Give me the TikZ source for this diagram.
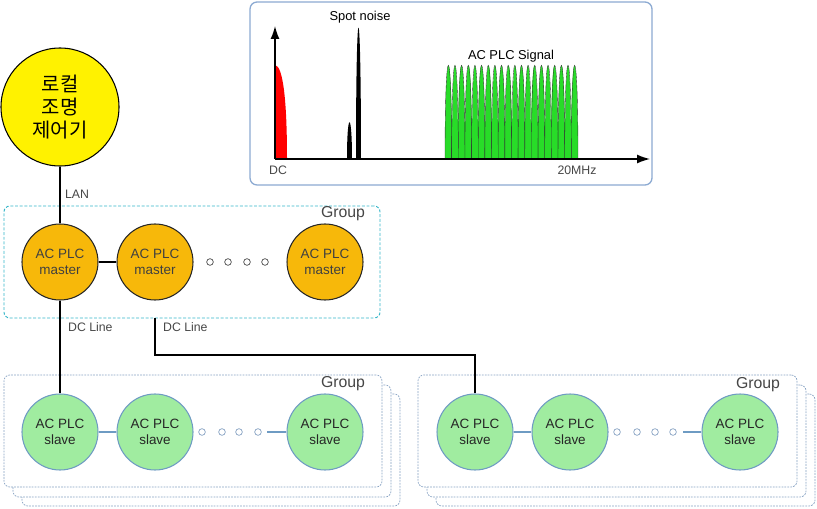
\documentclass[tikz,border=0pt]{standalone}
\usepackage{fontspec}
\setmainfont{Liberation Sans}
\newfontfamily\kor{Noto Sans CJK KR}
\usepackage{tikz}
\usetikzlibrary{arrows.meta,fit}
\definecolor{mastfill}{RGB}{247,184,10}
\definecolor{slavefill}{RGB}{160,236,160}
\definecolor{slaveline}{RGB}{110,155,195}
\definecolor{grpcyan}{RGB}{50,180,200}
\definecolor{grpgray}{RGB}{135,162,195}
\definecolor{specframe}{RGB}{140,170,210}
\definecolor{sigfill}{RGB}{40,220,40}
\definecolor{txtgray}{RGB}{70,70,70}

\begin{document}
\begin{tikzpicture}[x=0.03cm,y=-0.03cm,
  ctrl/.style={circle,draw,line width=0.9pt,fill=yellow,minimum size=3.54cm,inner sep=0pt,align=center,font=\kor\fontsize{17}{19.5}\selectfont},
  master/.style={circle,draw=black!85,line width=0.9pt,fill=mastfill,minimum size=2.28cm,inner sep=0pt,align=center,text=black!75,font=\fontsize{11.5}{14}\selectfont},
  slave/.style={circle,draw=slaveline,line width=0.9pt,fill=slavefill,minimum size=2.28cm,inner sep=0pt,align=center,text=black!85,font=\fontsize{11.5}{14}\selectfont},
  mgrp/.style={draw=grpcyan,dash pattern=on 2.5pt off 1.5pt,line width=0.8pt,rounded corners=5pt,inner sep=0pt},
  sgrp/.style={draw=grpgray,dash pattern=on 1.5pt off 1pt,line width=0.6pt,fill=white,rounded corners=5pt,inner sep=0pt},
  mdot/.style={circle,draw=black!70,fill=white,line width=0.6pt,minimum size=0.2cm,inner sep=0pt},
  sdot/.style={circle,draw=grpgray,fill=white,line width=0.6pt,minimum size=0.2cm,inner sep=0pt},
  grplab/.style={text=txtgray,font=\fontsize{13.5}{16}\selectfont},
  linelab/.style={text=txtgray,font=\fontsize{10.5}{12}\selectfont},
  spec/.style={font=\fontsize{11}{13}\selectfont},
  peak/.style={fill=sigfill,draw=black!80,line width=0.3pt}]
\useasboundingbox (0,0) rectangle (817,509);

\draw[specframe,line width=1.1pt,rounded corners=6pt,fill=white] (250,2) rectangle (652,185);
\coordinate (orig) at (275,159);
\coordinate (ytip) at (275,26);
\coordinate (xtip) at (650,159);
\fill[red] (275,159) -- (275,65) .. controls (283,66) and (287,100) .. (287,159) -- cycle;
\fill (347,159) .. controls (347,110) and (351.5,110) .. (351.5,159) -- cycle;
\fill (355.5,159) .. controls (355.5,-16) and (360.5,-16) .. (360.5,159) -- cycle;
\foreach \i in {0,...,19}
  \filldraw[peak] (445+\i*6.65,159) .. controls (445+\i*6.65,34) and (451.65+\i*6.65,34) .. (451.65+\i*6.65,159) -- cycle;
\draw[line width=1.2pt,-{Latex[length=0.39cm,width=0.27cm]}] (orig) -- (ytip);
\draw[line width=1.2pt,-{Latex[length=0.39cm,width=0.27cm]}] (orig) -- (xtip);
\node[spec] (spot) at (360,17) {Spot noise};
\node[spec] (sig) at (511,56) {AC PLC Signal};
\node[linelab] (dc) at (278,170) {DC};
\node[linelab] (mhz) at (577,170) {20MHz};

\node[ctrl] (ctrl) at (60,107) {로컬\\조명\\제어기};

\node[mgrp,fit={(4,206) (380,318)}] (grpm) {};
\node[grplab] (grpmlab) at (343,214) {Group};
\node[master] (m1) at (60,262) {AC PLC\\master};
\node[master] (m2) at (155,262) {AC PLC\\master};
\node[master] (m3) at (325,262) {AC PLC\\master};
\foreach \x [count=\k] in {210,228,247,265}
  \node[mdot] (md\k) at (\x,262) {};

\node[sgrp,fit={(22,394) (400,506)}] (grpa3) {};
\node[sgrp,fit={(13,385) (391,497)}] (grpa2) {};
\node[sgrp,fit={(4,375) (382,487)}] (grpa) {};
\node[grplab] (grpalab) at (343,384) {Group};
\node[slave] (a1) at (60,432) {AC PLC\\slave};
\node[slave] (a2) at (155,432) {AC PLC\\slave};
\node[slave] (a3) at (325,432) {AC PLC\\slave};
\foreach \x [count=\k] in {202,222,239,258}
  \node[sdot] (ad\k) at (\x,432) {};
\coordinate (ca) at (267,432);

\node[sgrp,fit={(436,394) (815,506)}] (grpb3) {};
\node[sgrp,fit={(427,385) (806,497)}] (grpb2) {};
\node[sgrp,fit={(418,375) (797,487)}] (grpb) {};
\node[grplab] (grpblab) at (758,385) {Group};
\node[slave] (b1) at (475,432) {AC PLC\\slave};
\node[slave] (b2) at (570,432) {AC PLC\\slave};
\node[slave] (b3) at (740,432) {AC PLC\\slave};
\foreach \x [count=\k] in {617,637,655,673}
  \node[sdot] (bd\k) at (\x,432) {};
\coordinate (cb) at (683,432);

\draw[line width=0.9pt] (ctrl) -- (m1);
\node[linelab] (lan) at (77,194) {LAN};
\draw[line width=0.9pt] (m1) -- (m2);
\draw[line width=0.9pt] (m1) -- (a1);
\coordinate (bend) at (155,355);
\draw[line width=0.9pt] (m2 |- grpm.south) -- (bend) -| (b1.north);
\node[linelab,anchor=west] (dca) at (64,327) {DC Line};
\node[linelab,anchor=west] (dcb) at (159,327) {DC Line};

\draw[slaveline,line width=0.9pt] (a1) -- (a2);
\draw[slaveline,line width=0.9pt] (ca) -- (a3);
\draw[slaveline,line width=0.9pt] (b1) -- (b2);
\draw[slaveline,line width=0.9pt] (cb) -- (b3);
\end{tikzpicture}
\end{document}
